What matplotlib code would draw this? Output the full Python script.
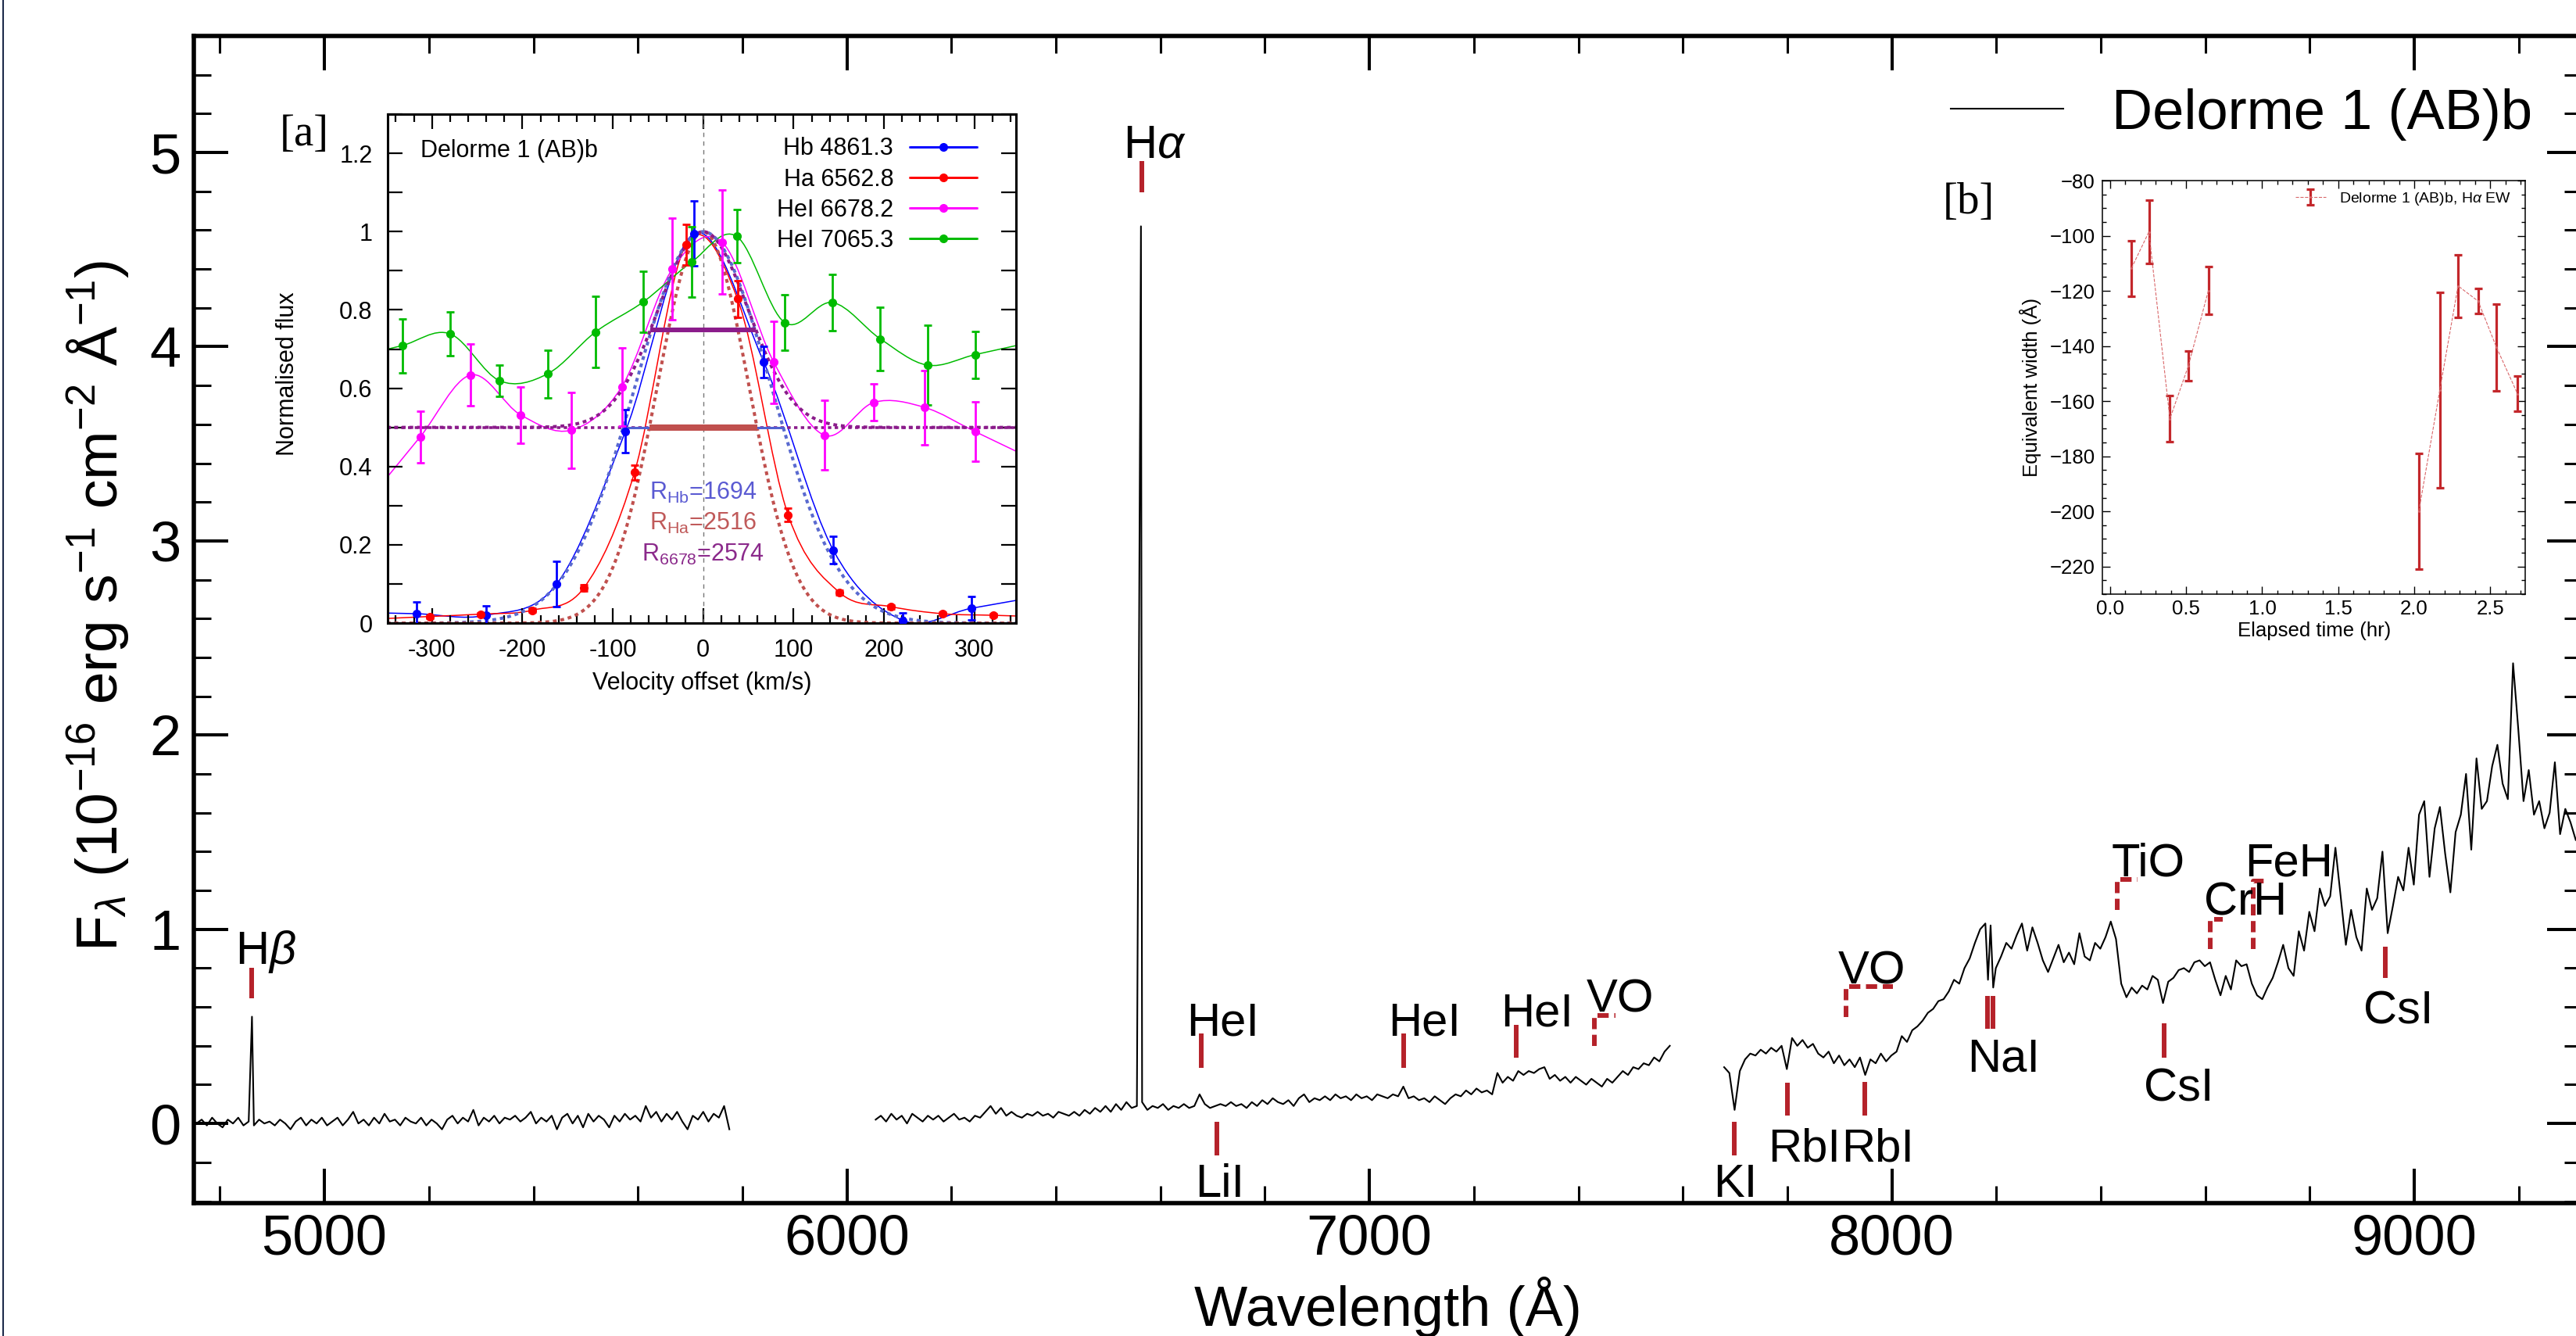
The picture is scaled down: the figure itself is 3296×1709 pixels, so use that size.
import numpy as np
import matplotlib
matplotlib.use('Agg')
import matplotlib.pyplot as plt
from matplotlib.path import Path
from matplotlib.patches import PathPatch
from matplotlib.lines import Line2D
from matplotlib.ticker import MultipleLocator, FuncFormatter, AutoMinorLocator
from matplotlib.container import ErrorbarContainer
from matplotlib.legend_handler import HandlerErrorbar

plt.rcParams['font.family'] = ['Liberation Sans', 'DejaVu Sans']
plt.rcParams['mathtext.fontset'] = 'custom'
plt.rcParams['mathtext.rm'] = 'Liberation Sans'
plt.rcParams['mathtext.it'] = 'Liberation Sans:italic'
plt.rcParams['mathtext.bf'] = 'Liberation Sans:bold'

# ---- main spectrum (10 A steps) ----
seg1_start = 4755
seg1_flux = [0.00, 0.02, -0.01, 0.03, 0.00, -0.02, 0.02, 0.00, 0.03, -0.01,
             0.01, -0.01, 0.02, 0.00, 0.01, -0.01, 0.02, 0.00, -0.03, 0.01,
             0.03, -0.01, 0.02, 0.00, 0.03, -0.01, 0.01, 0.03, -0.01, 0.02,
             0.06, 0.00, 0.02, -0.01, 0.03, 0.00, 0.05, 0.01, 0.02, -0.01,
             0.03, 0.01, 0.00, 0.03, -0.01, 0.02, 0.00, -0.03, 0.02, 0.04,
             0.00, 0.03, 0.01, 0.07, -0.01, 0.03, 0.01, 0.04, 0.00, 0.03,
             0.02, 0.04, 0.01, 0.03, 0.06, 0.00, 0.03, 0.01, 0.04, -0.03,
             0.03, 0.05, 0.00, 0.04, -0.02, 0.05, 0.01, 0.04, 0.02, -0.02,
             0.04, 0.01, 0.05, 0.02, 0.04, 0.01, 0.09, 0.03, 0.06, 0.01,
             0.05, 0.02, 0.06, 0.01, -0.03, 0.04, 0.02, 0.06, 0.01, 0.05,
             0.03, 0.09, -0.03]
hb_wl = [4861.3]
hb_flux = [0.55]

seg2_start = 6055
seg2_flux = [0.02, 0.04, 0.01, 0.05, 0.02, 0.04, 0.00, 0.05, 0.03, 0.01,
             0.04, 0.02, 0.04, 0.01, 0.03, 0.05, 0.02, 0.03, 0.01, 0.04,
             0.03, 0.06, 0.09, 0.05, 0.08, 0.04, 0.06, 0.04, 0.03, 0.05,
             0.04, 0.06, 0.04, 0.05, 0.03, 0.06, 0.05, 0.04, 0.06, 0.04,
             0.07, 0.05, 0.08, 0.06, 0.09, 0.06, 0.10, 0.07, 0.11, 0.08,
             0.09, 0.11, 0.07, 0.09, 0.08, 0.10, 0.07, 0.09, 0.08, 0.10,
             0.08, 0.09, 0.15, 0.10, 0.08, 0.09, 0.10, 0.09, 0.11, 0.09,
             0.10, 0.08, 0.11, 0.09, 0.12, 0.10, 0.13, 0.11, 0.10, 0.12,
             0.09, 0.13, 0.15, 0.11, 0.13, 0.12, 0.14, 0.12, 0.15, 0.13,
             0.14, 0.12, 0.15, 0.13, 0.14, 0.12, 0.15, 0.14, 0.13, 0.15,
             0.14, 0.19, 0.13, 0.14, 0.12, 0.13, 0.11, 0.14, 0.12, 0.10,
             0.13, 0.15, 0.14, 0.17, 0.15, 0.18, 0.16, 0.17, 0.15, 0.26,
             0.21, 0.24, 0.22, 0.27, 0.25, 0.27, 0.26, 0.28, 0.29, 0.23,
             0.25, 0.22, 0.24, 0.21, 0.24, 0.22, 0.20, 0.23, 0.21, 0.19,
             0.23, 0.21, 0.24, 0.27, 0.25, 0.29, 0.28, 0.31, 0.30, 0.34,
             0.32, 0.37, 0.40]
ha_wl = [6562.8]
ha_flux = [4.62]

seg3_start = 7679
seg3_flux = [0.29, 0.26, 0.07, 0.27, 0.33, 0.36, 0.35, 0.38, 0.36, 0.39,
             0.37, 0.40, 0.28, 0.44, 0.40, 0.43, 0.39, 0.41, 0.36, 0.34,
             0.37, 0.31, 0.35, 0.30, 0.33, 0.29, 0.34, 0.25, 0.33, 0.31,
             0.36, 0.32, 0.35, 0.37, 0.45, 0.42, 0.48, 0.50, 0.53, 0.57,
             0.59, 0.63, 0.64, 0.68, 0.74, 0.72, 0.80, 0.85, 0.93, 1.00,
             1.03, 1.02, 0.80, 0.86, 0.93, 0.90, 0.97, 1.03, 0.89, 1.01,
             0.93, 0.84, 0.78, 0.85, 0.92, 0.83, 0.88, 0.82, 0.98, 0.86,
             0.84, 0.93, 0.90, 0.96, 1.04, 0.95, 0.72, 0.65, 0.70, 0.67,
             0.71, 0.69, 0.76, 0.74, 0.62, 0.73, 0.75, 0.79, 0.80, 0.78,
             0.83, 0.84, 0.81, 0.83, 0.74, 0.66, 0.76, 0.69, 0.84, 0.81,
             0.82, 0.72, 0.66, 0.64, 0.70, 0.75, 0.83, 0.92, 0.80, 0.76,
             0.99, 0.89, 1.09, 0.99, 1.21, 1.12, 1.17, 1.42, 1.17, 0.92,
             1.10, 0.96, 0.89, 1.21, 1.10, 1.16, 1.40, 0.98, 1.12, 1.27,
             1.20, 1.42, 1.23, 1.59, 1.66, 1.27, 1.52, 1.63, 1.39, 1.19,
             1.50, 1.59, 1.80, 1.41, 1.88, 1.62, 1.66, 1.84, 1.95, 1.75,
             1.67, 2.37, 2.03, 1.66, 1.82, 1.59, 1.66, 1.52, 1.60, 1.86,
             1.49, 1.62, 1.55, 1.46]
nai_wl = [8184, 8194]
nai_flux = [0.74, 0.70]

# ---- line identifications ----
tick_wl = [4861, 6564, 6678, 6708, 7065, 7281, 7699, 7800, 7948, 8183, 8194, 8521, 8944]
tick_lo = [0.645, 4.795, 0.286, -0.163, 0.286, 0.337, -0.163, 0.04, 0.04, 0.488, 0.488, 0.34, 0.748]
tick_hi = [0.80, 4.958, 0.463, 0.008, 0.463, 0.509, 0.008, 0.21, 0.213, 0.656, 0.656, 0.515, 0.911]

band_wl = [7430, 7912, 8432, 8610, 8692]
band_end = [7471, 8002, 8470, 8634, 8715]
band_lo = [0.40, 0.549, 1.10, 0.90, 0.90]
band_hi = [0.555, 0.704, 1.256, 1.051, 1.25]

label_txt = [r'H$\beta$', r'H$\alpha$', 'HeI', 'HeI', 'HeI', 'VO', 'VO', 'TiO', 'CrH', 'FeH',
             'LiI', 'KI', 'RbI', 'RbI', 'NaI', 'CsI', 'CsI']
label_x = [4888, 6589, 6720, 7106, 7321, 7480, 7962, 8490, 8677, 8760,
           6714, 7700, 7832, 7973, 8214, 8549, 8969]
label_y = [0.82, 4.975, 0.455, 0.455, 0.50, 0.575, 0.72, 1.273, 1.073, 1.273,
           -0.378, -0.378, -0.193, -0.193, 0.27, 0.116, 0.512]

# ---- inset [a]: line profiles ----
hb_v = [-317, -240, -162, -86, -10, 67, 144, 221, 297]
hb_f = [0.024, 0.020, 0.100, 0.490, 0.995, 0.667, 0.186, 0.007, 0.038]
hb_e = [0.030, 0.025, 0.057, 0.055, 0.083, 0.040, 0.035, 0.020, 0.030]

ha_v = [-302, -246, -189, -132, -76, -19, 38, 94, 151, 208, 265, 321]
ha_f = [0.017, 0.023, 0.033, 0.090, 0.385, 0.967, 0.828, 0.276, 0.078, 0.042, 0.024, 0.020]
ha_e = [0.004, 0.004, 0.005, 0.008, 0.019, 0.052, 0.047, 0.017, 0.006, 0.005, 0.004, 0.004]

he1_v = [-313, -257, -202, -146, -90, -34, 21, 78, 134, 189, 245, 301]
he1_f = [0.476, 0.634, 0.532, 0.493, 0.604, 0.905, 0.973, 0.667, 0.480, 0.564, 0.551, 0.489]
he1_e = [0.066, 0.079, 0.072, 0.097, 0.100, 0.130, 0.133, 0.105, 0.089, 0.047, 0.095, 0.076]

he2_v = [-333, -280, -225, -172, -119, -66, -13, 37, 90, 143, 196, 248, 301]
he2_f = [0.709, 0.739, 0.619, 0.637, 0.744, 0.821, 0.922, 0.988, 0.768, 0.819, 0.726, 0.659, 0.686]
he2_e = [0.069, 0.055, 0.040, 0.061, 0.090, 0.077, 0.090, 0.068, 0.070, 0.072, 0.081, 0.102, 0.060]

prof_labels = ['Hb 4861.3', 'Ha 6562.8', 'HeI 6678.2', 'HeI 7065.3']
R_hb, R_ha, R_6678 = 1694, 2516, 2574

# ---- inset [b]: H-alpha equivalent width, two observing blocks ----
ew_t = [0.140, 0.255, 0.393, 0.514, 0.646, 2.030, 2.168, 2.288, 2.420, 2.541, 2.679]
ew = [-111.8, -98.6, -166.4, -147.3, -119.9, -200.0, -156.0, -118.2, -123.7, -140.5, -157.3]
ew_err = [10.1, 11.4, 8.3, 5.4, 8.7, 21.0, 35.5, 11.3, 4.5, 15.7, 6.3]
ew_block = [0, 0, 0, 0, 0, 1, 1, 1, 1, 1, 1]


def segment(start, flux, extra_wl, extra_flux):
    wl = start + 10.0 * np.arange(len(flux))
    wl = np.concatenate([wl, extra_wl])
    fl = np.concatenate([flux, extra_flux])
    order = np.argsort(wl)
    return wl[order], fl[order]


def smooth_path(x, y, x0, x1):
    # Catmull-Rom curve through the points, drawn as cubic Bezier segments
    pts = np.column_stack([x, y]).astype(float)
    ext = np.vstack([2 * pts[0] - pts[1], pts, 2 * pts[-1] - pts[-2]])
    s0 = (pts[1, 1] - pts[0, 1]) / (pts[1, 0] - pts[0, 0])
    s1 = (pts[-1, 1] - pts[-2, 1]) / (pts[-1, 0] - pts[-2, 0])
    verts = [(x0, pts[0, 1] + s0 * (x0 - pts[0, 0])), tuple(pts[0])]
    codes = [Path.MOVETO, Path.LINETO]
    for i in range(len(pts) - 1):
        p0, p1, p2, p3 = ext[i], ext[i + 1], ext[i + 2], ext[i + 3]
        verts += [tuple(p1 + (p2 - p0) / 6), tuple(p2 - (p3 - p1) / 6), tuple(p2)]
        codes += [Path.CURVE4] * 3
    verts.append((x1, pts[-1, 1] + s1 * (x1 - pts[-1, 0])))
    codes.append(Path.LINETO)
    return Path(verts, codes)


fig = plt.figure(figsize=(32.96, 17.09), dpi=100)
fig.add_artist(Line2D([0.0012, 0.0012], [0, 1], transform=fig.transFigure, color='#1c2a4a', lw=1.5))

# ================= main panel =================
ax = fig.add_axes([0.07524, 0.09947, 0.9269, 0.8736])
red_id = '#b5222a'

spec = None
for st, fl, xw, xf in [(seg1_start, seg1_flux, hb_wl, hb_flux),
                       (seg2_start, seg2_flux, ha_wl, ha_flux),
                       (seg3_start, seg3_flux, nai_wl, nai_flux)]:
    w, f = segment(st, fl, xw, xf)
    spec, = ax.plot(w, f, color='black', lw=1.5)

ax.vlines(tick_wl, tick_lo, tick_hi, color=red_id, lw=4.3)
for x0, x1, lo, hi in zip(band_wl, band_end, band_lo, band_hi):
    ax.plot([x0, x0, x1], [lo, hi, hi], color=red_id, lw=4.3,
            linestyle=(0, (2.4, 1.2)), solid_capstyle='butt', dash_capstyle='butt')
for s, x, y in zip(label_txt, label_x, label_y):
    ax.text(x, y, s, ha='center', va='baseline', fontsize=43)

ax.set_xlim(4750, 9320)
ax.set_ylim(-0.41, 5.6)
ax.xaxis.set_major_locator(MultipleLocator(1000))
ax.xaxis.set_minor_locator(MultipleLocator(200))
ax.yaxis.set_major_locator(MultipleLocator(1))
ax.yaxis.set_minor_locator(MultipleLocator(0.2))
ax.tick_params(which='both', direction='in', top=True, right=True)
ax.tick_params(which='major', length=32, width=2.9, labelsize=52)
ax.tick_params(which='minor', length=16, width=2.2)
ax.tick_params(axis='x', pad=10)
ax.tick_params(axis='y', pad=12)
for sp in ax.spines.values():
    sp.set_linewidth(4)

ax.set_xlabel('Wavelength (Å)', fontsize=52)
ax.xaxis.set_label_coords(0.5, -0.089)
ax.xaxis.label.set_va('center')
fig.text(125 / 3296, 1 - 775 / 1709,
         r'F$_{\lambda}$ (10$^{-16}$ erg s$^{-1}$ cm$^{-2}$ Å$^{-1}$)',
         rotation=90, ha='center', va='center', fontsize=54)

ax.legend([spec], ['Delorme 1 (AB)b'], loc='center right',
          bbox_to_anchor=(3240 / 3296, 1 - 146 / 1709), bbox_transform=fig.transFigure,
          frameon=False, fontsize=52, handlelength=2.0, handletextpad=0.85,
          borderpad=0, borderaxespad=0)

# ================= inset [a] =================
axa = fig.add_axes([0.1505, 0.5336, 0.2439, 0.3809])
c_kms = 299792.458
vv = np.linspace(-350, 350, 700)


def gauss(R):
    sig = c_kms / R / 2.3548
    return np.exp(-vv ** 2 / (2 * sig ** 2))


axa.axvline(0, color='#777777', lw=1.0, ls=(0, (4, 4)))
axa.axhline(0.5, color='#8b1c8b', lw=2.6, ls=(0, (1.2, 1.2)))
axa.plot(vv, gauss(R_hb), color='#5a6acf', lw=2.9, ls=(0, (1.2, 1.2)))
axa.plot(vv, gauss(R_ha), color='#c0504e', lw=2.9, ls=(0, (1.2, 1.2)))
axa.plot(vv, 0.5 + 0.5 * gauss(R_6678), color='#8b1c8b', lw=2.9, ls=(0, (1.2, 1.2)))

fw_hb, fw_ha, fw_he = c_kms / R_hb, c_kms / R_ha, c_kms / R_6678
axa.plot([-fw_hb / 2, fw_hb / 2], [0.5, 0.5], color='#5060d0', lw=2.2)
axa.plot([-fw_ha / 2, fw_ha / 2], [0.5, 0.5], color='#c0504e', lw=5.8, solid_capstyle='butt')
axa.plot([-fw_he / 2, fw_he / 2], [0.75, 0.75], color='#8b1c8b', lw=4.3, solid_capstyle='butt')

prof_colors = ['#0000ff', '#ff0000', '#ff00ff', '#00bb00']
handles = []
for v, f, e, col in [(hb_v, hb_f, hb_e, prof_colors[0]), (ha_v, ha_f, ha_e, prof_colors[1]),
                     (he1_v, he1_f, he1_e, prof_colors[2]), (he2_v, he2_f, he2_e, prof_colors[3])]:
    axa.add_patch(PathPatch(smooth_path(v, f, -349, 346), fill=False, edgecolor=col, lw=1.1))
    axa.errorbar(v, f, yerr=e, fmt='o', color=col, ms=7, elinewidth=2.0,
                 capsize=3.8, capthick=2.0, zorder=5)
    h = axa.errorbar(np.array([]), np.array([]), xerr=np.array([]), fmt='-o', color=col,
                     ms=7, lw=1.8, elinewidth=2.0, capsize=4.5, capthick=2.0)
    handles.append(h)

axa.legend(handles, prof_labels, loc='upper right', bbox_to_anchor=(0.938, 0.955),
           markerfirst=False, frameon=False, fontsize=22, handlelength=2.83,
           handletextpad=0.67, labelspacing=0.3, borderpad=0, borderaxespad=0,
           handler_map={ErrorbarContainer: HandlerErrorbar(xerr_size=1.4)})

axa.text(0.0, 0.333, r'R$_{\rm Hb}$=1694', color='#5a5ad2', ha='center', va='center', fontsize=22)
axa.text(0.0, 0.254, r'R$_{\rm Ha}$=2516', color='#c05a5a', ha='center', va='center', fontsize=22)
axa.text(0.0, 0.175, r'R$_{6678}$=2574', color='#8b2a8b', ha='center', va='center', fontsize=22)
axa.text(0.052, 0.928, 'Delorme 1 (AB)b', transform=axa.transAxes, ha='left', va='center', fontsize=22)

axa.set_xlim(-349, 346)
axa.set_ylim(0, 1.3)
axa.xaxis.set_major_locator(MultipleLocator(100))
axa.xaxis.set_minor_locator(MultipleLocator(20))
axa.yaxis.set_major_locator(MultipleLocator(0.2))
axa.yaxis.set_minor_locator(MultipleLocator(0.1))
gfmt = FuncFormatter(lambda val, pos: '%g' % round(val, 6))
axa.xaxis.set_major_formatter(gfmt)
axa.yaxis.set_major_formatter(gfmt)
axa.tick_params(which='both', direction='in', top=True, right=True, width=1.6)
axa.tick_params(which='major', length=14, labelsize=22)
axa.tick_params(axis='x', which='minor', length=7)
axa.tick_params(axis='y', which='minor', length=14)
axa.tick_params(axis='x', pad=14)
axa.tick_params(axis='y', pad=14)
for sp in axa.spines.values():
    sp.set_linewidth(2.2)
axa.set_xlabel('Velocity offset (km/s)', fontsize=22)
axa.xaxis.set_label_coords(0.5, -0.118)
axa.xaxis.label.set_va('center')
axa.set_ylabel('Normalised flux', fontsize=22)
axa.yaxis.set_label_coords(-0.159, 0.49)
axa.yaxis.label.set_va('center')
fig.text(389 / 3296, 1 - 172 / 1709, '[a]', family='Liberation Serif', fontsize=41,
         ha='center', va='center')

# ================= inset [b] =================
axb = fig.add_axes([0.8162, 0.5553, 0.1641, 0.3095])
ew_col = '#c3272b'
t_arr, ew_arr, err_arr, blk = map(np.asarray, (ew_t, ew, ew_err, ew_block))
eb_handle = None
for b in np.unique(blk):
    m = blk == b
    eb = axb.errorbar(t_arr[m], ew_arr[m], yerr=err_arr[m], color='#d9676a', ecolor=ew_col,
                      ls='--', lw=0.8, marker='.', ms=2, elinewidth=2.3, capsize=3.6, capthick=2.3)
    if eb_handle is None:
        eb_handle = eb
axb.legend([eb_handle], [r'Delorme 1 (AB)b, H$\alpha$ EW'], loc='upper right',
           bbox_to_anchor=(0.967, 0.976), frameon=False, fontsize=14,
           handlelength=2.0, handletextpad=0.9, borderpad=0, borderaxespad=0)
axb.set_xlim(-0.05, 2.73)
axb.set_ylim(-230, -80)
axb.xaxis.set_major_locator(MultipleLocator(0.5))
axb.xaxis.set_minor_locator(AutoMinorLocator(5))
axb.yaxis.set_major_locator(MultipleLocator(20))
axb.yaxis.set_minor_locator(AutoMinorLocator(4))
axb.tick_params(which='both', direction='in', top=True, right=True, width=1.0)
axb.tick_params(which='major', length=7, labelsize=18.5)
axb.tick_params(which='minor', length=3.5)
axb.tick_params(axis='x', pad=5)
axb.tick_params(axis='y', pad=7)
for sp in axb.spines.values():
    sp.set_linewidth(1.1)
axb.set_xlabel('Elapsed time (hr)', fontsize=18.5)
axb.xaxis.set_label_coords(0.5, -0.088)
axb.xaxis.label.set_va('center')
axb.set_ylabel('Equivalent width (Å)', fontsize=18.5)
axb.yaxis.set_label_coords(-0.17, 0.5)
axb.yaxis.label.set_va('center')
fig.text(2519 / 3296, 1 - 259 / 1709, '[b]', family='Liberation Serif', fontsize=41,
         ha='center', va='center')

fig.savefig('out.png', dpi=100)
